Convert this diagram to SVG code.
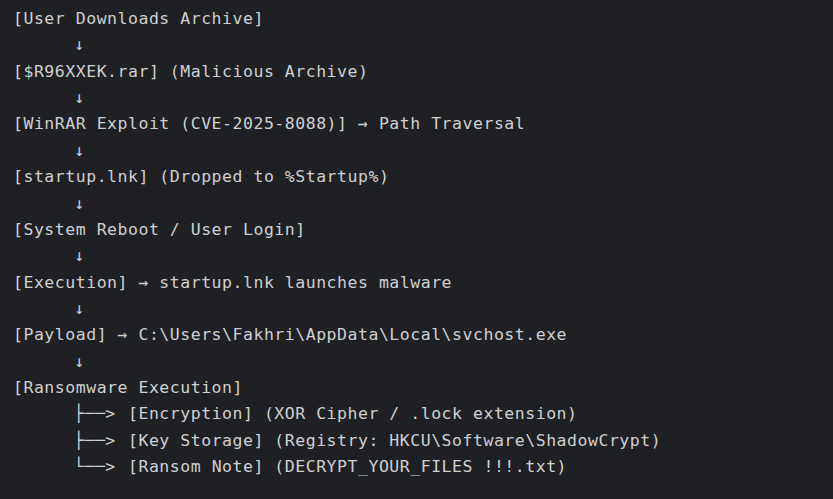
<svg xmlns="http://www.w3.org/2000/svg" width="833" height="499" viewBox="0 0 833 499">
<style>
text{font-family:"DejaVu Sans Mono","Liberation Mono",monospace;font-size:16.5px;letter-spacing:0.52px;fill:#cfd0d2;white-space:pre}
.c{fill:#cfd0d2}
</style>
<rect x="0" y="0" width="833" height="499" fill="#1f2023"/>
<g id="n1"><text x="13" y="24">[User Downloads Archive]</text></g>
<g id="n2"><text x="13" y="76.7">[$R96XXEK.rar] (Malicious Archive)</text></g>
<g id="n3"><text x="13" y="129.4">[WinRAR Exploit (CVE-2025-8088)] → Path Traversal</text></g>
<g id="n4"><text x="13" y="182.1">[startup.lnk] (Dropped to %Startup%)</text></g>
<g id="n5"><text x="13" y="234.8">[System Reboot / User Login]</text></g>
<g id="n6"><text x="13" y="287.5">[Execution] → startup.lnk launches malware</text></g>
<g id="n7"><text x="13" y="340.2">[Payload] → C:\Users\Fakhri\AppData\Local\svchost.exe</text></g>
<g id="n8"><text x="13" y="392.9">[Ransomware Execution]</text></g>
<g id="n9"><text x="128" y="419.3">[Encryption] (XOR Cipher / .lock extension)</text></g>
<g id="n10"><text x="128" y="445.6">[Key Storage] (Registry: HKCU\Software\ShadowCrypt)</text></g>
<g id="n11"><text x="128" y="472">[Ransom Note] (DECRYPT_YOUR_FILES !!!.txt)</text></g>
<g id="connectors">
<text x="74.5" y="50.4">↓</text>
<text x="74.5" y="103.1">↓</text>
<text x="74.5" y="155.8">↓</text>
<text x="74.5" y="208.5">↓</text>
<text x="74.5" y="261.2">↓</text>
<text x="74.5" y="313.9">↓</text>
<text x="74.5" y="366.6">↓</text>
<text x="74" y="419.3">├──&gt;</text>
<text x="74" y="445.6">├──&gt;</text>
<text x="74" y="472">└──&gt;</text>
</g>
</svg>
